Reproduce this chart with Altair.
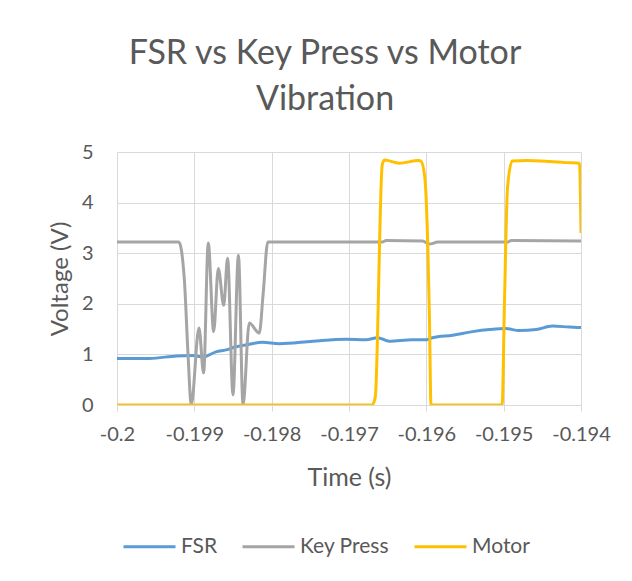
import altair as alt
import pandas as pd

# ---- data ----
fsr_t = [-0.2, -0.19958, -0.19923, -0.19902, -0.19889, -0.19872, -0.19859, -0.19846,
         -0.19829, -0.19812, -0.1979, -0.19747, -0.19704, -0.19678, -0.19663, -0.19648,
         -0.19618, -0.196, -0.19592, -0.19566, -0.1954, -0.19518, -0.19497, -0.1948,
         -0.19458, -0.19437, -0.19415, -0.194]
fsr_v = [0.92, 0.92, 0.97, 0.98, 0.95, 1.05, 1.09, 1.15,
         1.20, 1.24, 1.21, 1.26, 1.30, 1.29, 1.33, 1.26,
         1.29, 1.29, 1.33, 1.38, 1.45, 1.49, 1.51, 1.47,
         1.49, 1.56, 1.54, 1.53]

key_t = [-0.2, -0.1992, -0.19913, -0.19908, -0.19904, -0.19894, -0.19888, -0.19882,
         -0.19875, -0.19869, -0.19862, -0.19857, -0.1985, -0.19843, -0.19837, -0.19829,
         -0.19816, -0.19811, -0.19805, -0.19657, -0.19652, -0.19605, -0.19596, -0.19585,
         -0.19495, -0.1949, -0.194]
key_v = [3.22, 3.22, 2.5, 0.95, 0.0, 1.52, 0.63, 3.2,
         1.45, 2.7, 1.97, 2.9, 0.2, 2.96, 0.0, 1.62,
         1.42, 2.2, 3.22, 3.22, 3.25, 3.24, 3.18, 3.22,
         3.22, 3.25, 3.24]

motor_t = [-0.2, -0.1967, -0.19666, -0.19657, -0.19654, -0.19635, -0.1961, -0.19607,
           -0.19602, -0.19598, -0.19596, -0.19594, -0.19502, -0.19499, -0.19495, -0.19489,
           -0.1947, -0.1944, -0.1942, -0.19402, -0.194]
motor_v = [0.0, 0.0, 0.16, 4.75, 4.84, 4.78, 4.83, 4.82,
           4.5, 3.06, 1.74, 0.0, 0.0, 2.0, 4.3, 4.82,
           4.83, 4.81, 4.79, 4.78, 3.4]

series_names = ["FSR", "Key Press", "Motor"]
series_colors = ["#5B9BD5", "#A5A5A5", "#FFC000"]
x_ticks = [-0.2, -0.199, -0.198, -0.197, -0.196, -0.195, -0.194]
y_ticks = [0, 1, 2, 3, 4, 5]

rows = []
for name, ts, vs in zip(series_names, [fsr_t, key_t, motor_t], [fsr_v, key_v, motor_v]):
    for t, v in zip(ts, vs):
        rows.append({"series": name, "t": t, "v": v})
df = pd.DataFrame(rows)

FONT = "Lato"
TXT = "#595959"

chart = alt.Chart(df).mark_line(strokeWidth=3, interpolate="monotone", clip=True).encode(
    x=alt.X("t:Q",
            scale=alt.Scale(domain=[-0.2, -0.194], nice=False, zero=False),
            axis=alt.Axis(values=x_ticks, title="Time (s)",
                          labelExpr="replace(format(datum.value, '.3~f'), '\u2212', '-')",
                          labelFlush=False, labelOverlap=False,
                          grid=True, gridColor="#D9D9D9", domainColor="#D9D9D9",
                          tickColor="#D9D9D9", tickSize=6, labelPadding=13,
                          labelFontSize=20, labelColor=TXT, labelFont=FONT,
                          titleFontSize=25, titleColor=TXT, titleFont=FONT,
                          titleFontWeight="normal", titlePadding=21)),
    y=alt.Y("v:Q",
            scale=alt.Scale(domain=[0, 5], nice=False),
            axis=alt.Axis(values=y_ticks, title="Voltage (V)", grid=True,
                          gridColor="#D9D9D9", domain=False, ticks=False,
                          labelPadding=24, labelFontSize=20, labelColor=TXT,
                          labelFont=FONT, titleFontSize=24, titleColor=TXT,
                          titleFont=FONT, titleFontWeight="normal", titlePadding=9)),
    color=alt.Color("series:N",
                    scale=alt.Scale(domain=series_names, range=series_colors),
                    legend=alt.Legend(title=None, orient="none", direction="horizontal",
                                      legendX=5, legendY=367, symbolType="stroke",
                                      symbolSize=2704, symbolStrokeWidth=3,
                                      labelFontSize=21, labelColor=TXT, labelFont=FONT,
                                      labelOffset=4, columnPadding=18, padding=0)),
).properties(
    width=464,
    height=253,
    autosize=alt.AutoSizeParams(type="none"),
    padding={"left": 109, "top": 144, "right": 43, "bottom": 168},
    title=alt.TitleParams(text=["FSR vs Key Press vs Motor", "Vibration"],
                          anchor="middle", frame="group", dx=-24, offset=25,
                          fontSize=34, font=FONT, color=TXT, fontWeight="normal",
                          lineHeight=46),
).configure_view(stroke=None)

chart.save("out.html", embed_options={"renderer": "svg", "actions": False})
